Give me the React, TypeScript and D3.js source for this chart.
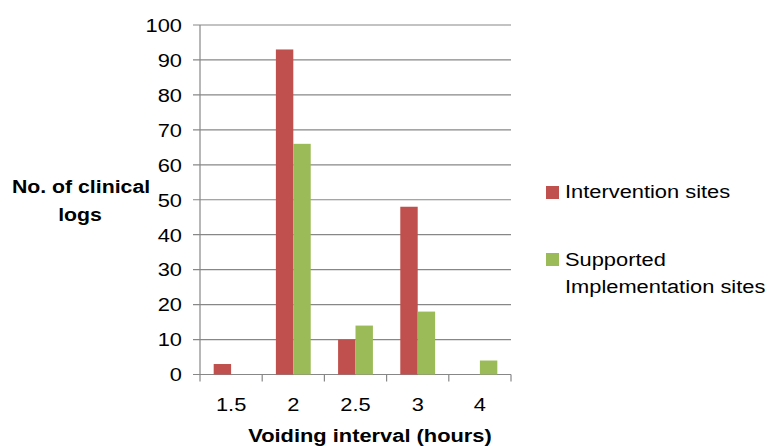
import React from 'react';
import * as d3 from 'd3';

const categories = ['1.5', '2', '2.5', '3', '4'];
const interventionSites = [3, 93, 10, 48, 0];
const supportedSites = [0, 66, 14, 18, 4];
const seriesNames = ['Intervention sites', 'Supported Implementation sites'];
const seriesColors = ['#C0504D', '#9BBB59'];
const yTicks = [0, 10, 20, 30, 40, 50, 60, 70, 80, 90, 100];

const width = 769;
const height = 446;
const margin = { top: 25, right: 258, bottom: 71.5, left: 200 };
const font = '"Liberation Sans", Arial, Helvetica, sans-serif';
const sx = 1.15; // the reference text is stretched sideways
const gridColor = '#878787';

const App: React.FC = () => {
  const innerW = width - margin.left - margin.right;
  const innerH = height - margin.top - margin.bottom;

  const x0 = d3.scaleBand<string>().domain(categories).range([0, innerW]).padding(0);
  const x1 = d3
    .scaleBand<number>()
    .domain([0, 1])
    .range([x0.bandwidth() * 0.22, x0.bandwidth() * 0.78])
    .padding(0);
  const y = d3.scaleLinear().domain([0, 100]).range([innerH, 0]);

  const series = [interventionSites, supportedSites];
  const boundaries = categories.map(c => x0(c)!).concat([innerW]);

  const Txt = (props: {
    x: number;
    y: number;
    anchor?: string;
    bold?: boolean;
    size?: number;
    children: React.ReactNode;
  }) => (
    <text
      transform={`translate(${props.x},${props.y}) scale(${sx},1)`}
      textAnchor={props.anchor || 'start'}
      fontFamily={font}
      fontWeight={props.bold ? 'bold' : 'normal'}
      fontSize={props.size || 19}
      fill="#000"
    >
      {props.children}
    </text>
  );

  return (
    <svg
      width={width}
      height={height}
      style={{ position: 'absolute', left: 0, top: 0, background: '#fff' }}
    >
      <g transform={`translate(${margin.left},${margin.top})`}>
        {/* gridlines and y ticks */}
        {yTicks.map(t => (
          <line
            key={t}
            x1={-7}
            x2={innerW}
            y1={y(t)}
            y2={y(t)}
            stroke={gridColor}
            strokeWidth={1.2}
          />
        ))}
        {/* y axis */}
        <line x1={0} x2={0} y1={0} y2={innerH} stroke={gridColor} strokeWidth={1.2} />
        {/* x tick marks */}
        {boundaries.map((b, i) => (
          <line
            key={i}
            x1={b}
            x2={b}
            y1={innerH}
            y2={innerH + 7}
            stroke={gridColor}
            strokeWidth={1.2}
          />
        ))}
        {/* bars */}
        {series.map((vals, si) =>
          vals.map((v, ci) =>
            v > 0 ? (
              <rect
                key={`${si}-${ci}`}
                x={x0(categories[ci])! + x1(si)!}
                y={y(v)}
                width={x1.bandwidth()}
                height={innerH - y(v)}
                fill={seriesColors[si]}
              />
            ) : null
          )
        )}
        {/* y tick labels */}
        {yTicks.map(t => (
          <Txt key={t} x={-18} y={y(t) + 6.8} anchor="end">
            {t}
          </Txt>
        ))}
        {/* x tick labels */}
        {categories.map(c => (
          <Txt key={c} x={x0(c)! + x0.bandwidth() / 2} y={innerH + 36.5} anchor="middle">
            {c}
          </Txt>
        ))}
      </g>
      {/* axis titles */}
      <Txt x={81} y={193} anchor="middle" bold size={18.5}>
        No. of clinical
      </Txt>
      <Txt x={80} y={221} anchor="middle" bold size={18.5}>
        logs
      </Txt>
      <Txt x={370} y={442} anchor="middle" bold>
        Voiding interval (hours)
      </Txt>
      {/* legend */}
      <rect x={546} y={186} width={13} height={13} fill={seriesColors[0]} />
      <Txt x={565} y={198}>{seriesNames[0]}</Txt>
      <rect x={546} y={253} width={13} height={13} fill={seriesColors[1]} />
      <Txt x={565} y={266}>Supported</Txt>
      <Txt x={565} y={293}>Implementation sites</Txt>
    </svg>
  );
};

export default App;
